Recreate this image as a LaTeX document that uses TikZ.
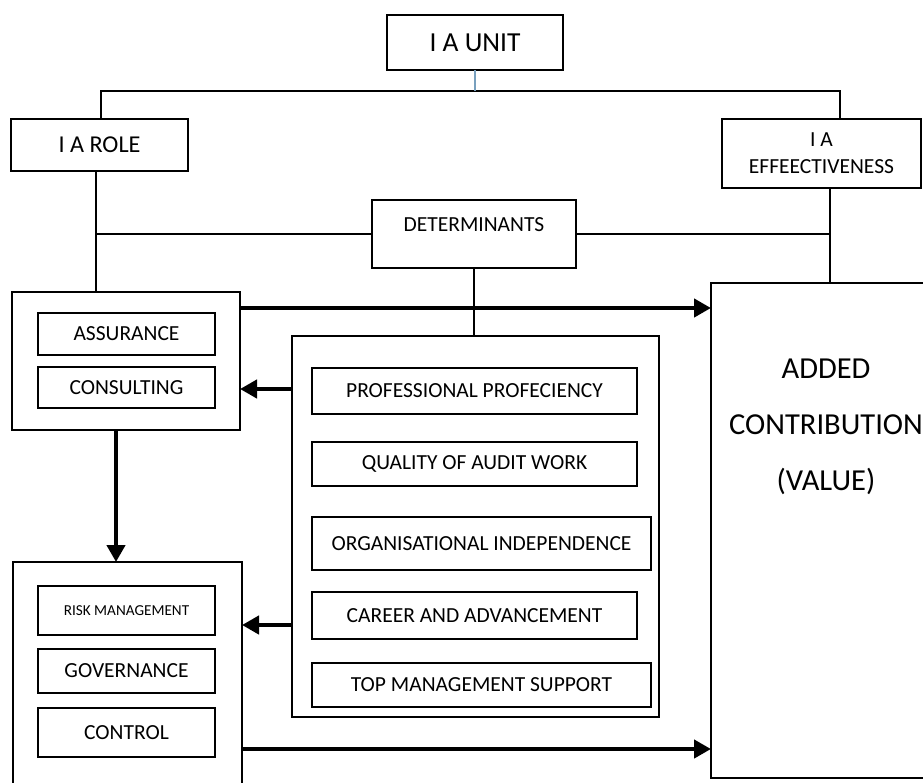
\documentclass[tikz,border=0pt]{standalone}
\usepackage{fontspec}
\setmainfont{Carlito}
\usetikzlibrary{arrows.meta}
\usetikzlibrary{positioning}

\definecolor{unitblue}{RGB}{120,160,190}
\newcommand\lbl{\fontsize{21.5}{26}\selectfont}

\begin{document}
\begin{tikzpicture}[x=1pt, y=-1pt,
    box/.style={draw, rectangle, line width=2.6pt, inner sep=0pt, outer sep=0pt, font=\lbl},
    item/.style={box, minimum width=177pt},
    link/.style={line width=1.2pt},
    bigarrow/.style={line width=4.5pt, -{Triangle[length=17pt,width=18pt]}}]
    \clip (0,0) rectangle (923,782);
    % top row
    \node [box, minimum width=176pt, minimum height=55pt, font=\fontsize{27.5}{31}\selectfont] (unit) at (475,42.5) {I A UNIT};
    \node [box, minimum width=177pt, minimum height=52pt, font=\fontsize{24.2}{29}\selectfont] (role) at (99.5,145) {I A ROLE};
    \node [box, minimum width=199pt, minimum height=69pt, align=center, font=\fontsize{21.5}{27}\selectfont] (eff) at (821.5,153.5) {I A\\EFFEECTIVENESS};
    \node [box, minimum width=204pt, minimum height=68pt, text height=15pt, text depth=21pt] (det) at (474,234) {DETERMINANTS};
    % role group
    \node [box, minimum width=228pt, minimum height=138pt] (grpa) at (126,361) {};
    \node [item, minimum height=42pt] (assur) at (126.5,334) {ASSURANCE};
    \node [item, minimum height=41pt, below=12pt of assur] (consult) {CONSULTING};
    % risk group
    \node [box, minimum width=229pt, minimum height=238pt] (grpr) at (127.5,681) {};
    \node [item, minimum height=49pt, font=\fontsize{15.2}{18}\selectfont] (risk) at (126.5,610.5) {RISK MANAGEMENT};
    \node [item, minimum height=44pt, below=14pt of risk] (gov) {GOVERNANCE};
    \node [item, minimum height=49pt, below=15pt of gov] (ctrl) {CONTROL};
    % determinants group
    \node [box, minimum width=367pt, minimum height=381pt] (grpd) at (475.5,526.5) {};
    \node [box, minimum width=325pt, minimum height=46pt] (prof) at (474.5,391) {PROFESSIONAL PROFECIENCY};
    \node [box, minimum width=325pt, minimum height=44pt, below=28pt of prof] (qual) {QUALITY OF AUDIT WORK};
    \node [box, minimum width=339pt, minimum height=53pt, below=31pt of qual.south west, anchor=north west] (org) {ORGANISATIONAL INDEPENDENCE};
    \node [box, minimum width=325pt, minimum height=47pt, below=22pt of org.south west, anchor=north west] (career) {CAREER AND ADVANCEMENT};
    \node [box, minimum width=339pt, minimum height=44pt, below=24pt of career.south west, anchor=north west] (topm) {TOP MANAGEMENT SUPPORT};
    % added value
    \node [box, minimum width=230pt, minimum height=495pt] (added) at (826,530.5) {};
    \node [align=center, inner sep=0pt, font=\fontsize{30.5}{56}\selectfont, below=76pt of added.north] (addtxt) {ADDED\\CONTRIBUTION\\(VALUE)};
    % thin links
    \coordinate (bar) at ([yshift=-21pt]unit.south);
    \draw [link] ([xshift=1.5pt]role.north) |- (bar) -| ([xshift=18.5pt]eff.north);
    \draw [link, draw=unitblue] (unit.south) -- (bar);
    \coordinate (rolefoot) at ([xshift=-3.5pt]role.south);
    \draw [link] (rolefoot) -- (rolefoot |- grpa.north);
    \draw [link] (det.west) -- (det.west -| rolefoot);
    \coordinate (efffoot) at ([xshift=8.5pt]eff.south);
    \draw [link] (efffoot) -- (efffoot |- added.north);
    \draw [link] (det.east) -- (det.east -| efffoot);
    \draw [link] (det.south) -- (det.south |- grpd.north);
    % thick arrows
    \coordinate (a1) at ([yshift=-16pt]grpa.north east);
    \draw [bigarrow] (a1) -- (a1 -| added.west);
    \coordinate (a2) at ([yshift=-53pt]grpd.north west);
    \draw [bigarrow] (a2) -- (a2 -| grpa.east);
    \coordinate (a3) at ([xshift=-10pt]grpa.south);
    \draw [bigarrow] (a3) -- (a3 |- grpr.north);
    \coordinate (a4) at ([yshift=-289pt]grpd.north west);
    \draw [bigarrow] (a4) -- (a4 -| grpr.east);
    \coordinate (a5) at ([yshift=-187pt]grpr.north east);
    \draw [bigarrow] (a5) -- (a5 -| added.west);
\end{tikzpicture}
\end{document}
